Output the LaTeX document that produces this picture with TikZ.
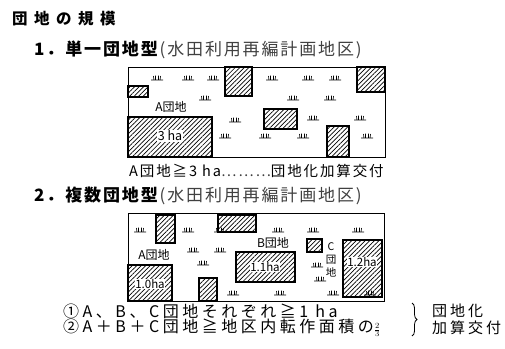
\documentclass[tikz,border=0pt]{standalone}
\usepackage{fontspec}
\setmainfont{Noto Sans CJK JP}
\usetikzlibrary{patterns.meta,decorations.pathreplacing}
\begin{document}
\begin{tikzpicture}[x=1pt, y=-1pt, font=\fontsize{13}{15}\selectfont,
 field/.style={draw, line width=0.9pt},
 plot/.style={draw, line width=1.4pt, pattern={Lines[angle=45,distance=3.2pt,line width=0.7pt]}},
 head/.style={anchor=west, inner sep=0pt, font=\fontsize{17}{19}\selectfont\addfontfeature{LetterSpace=11}},
 txt/.style={anchor=west, inner sep=0pt, font=\fontsize{14.5}{16}\selectfont\addfontfeature{LetterSpace=13}},
 cond/.style={anchor=west, inner sep=0pt, font=\fontsize{16}{18}\selectfont\addfontfeature{LetterSpace=22}},
 lbl/.style={inner sep=0.6pt, fill=white, font=\fontsize{12}{13}\selectfont},
 ha/.style={inner sep=0.6pt, fill=white, font=\fontsize{11.5}{12}\selectfont},
 rice/.pic={\draw[line width=0.6pt] (-6,0) -- (6,0)
   (-3,0) -- (-3.6,-4) (-1.5,0) -- (-1.5,-4.5) (1.5,0) -- (1.5,-4.5) (3,0) -- (3.6,-4);}]
\useasboundingbox (0,0) rectangle (505,348);
% headings
\node[head, font=\fontsize{15.5}{17}\selectfont\bfseries\addfontfeature{LetterSpace=42}] (title) at (12,19) {団地の規模};
\node[head] (h1) at (34,50) {\textbf{1．単一団地型}\textcolor{black!75}{(水田利用再編計画地区)}};
\node[head] (h2) at (34,196) {\textbf{2．複数団地型}\textcolor{black!75}{(水田利用再編計画地区)}};
% single plot area
\draw[field] (128,67) rectangle (385,157);
\draw[plot] (128,86) rectangle (148,97);
\draw[plot] (225,67) rectangle (252,96);
\draw[plot] (357,67) rectangle (385,92);
\draw[plot] (128,117) rectangle (212,157);
\draw[plot] (264,109) rectangle (297,129);
\draw[plot] (327,126) rectangle (349,157);
\foreach \x/\y in {157/80,188/80,213/80,272/80,308/80,335/80,205/100,293/100,330/100,
  235/122,313/120,360/120,225/138,265/138,303/138,367/138}
  \pic at (\x,\y) {rice};
\node[lbl] (a1) at (171,107) {A団地};
\node[ha, font=\fontsize{12.5}{13}\selectfont] (ha3) at (170,136) {3 ha};
\node[txt] (r1) at (129,171) {A団地≧3 ha\textcolor{black!75}{………}団地化加算交付};
% multiple plot area
\draw[field] (128,213) rectangle (384,301);
\draw[plot] (156,215) rectangle (175,243);
\draw[plot] (218,215) rectangle (256,232);
\draw[plot] (236,252) rectangle (295,282);
\draw[plot] (307,239) rectangle (322,252);
\draw[plot] (343,240) rectangle (382,297);
\draw[plot] (128,265) rectangle (172,301);
\draw[plot] (199,278) rectangle (217,301);
\foreach \x/\y in {140/232,188/232,220/232,278/232,313/232,358/232,193/252,220/252,
  203/265,317/267,320/281,233/295,280/295,333/295,370/295}
  \pic at (\x,\y) {rice};
\node[lbl] (a2) at (154,255) {A団地};
\node[lbl] (b2) at (273,243) {B団地};
\node[lbl, align=center, font=\fontsize{10.5}{13}\selectfont] (c2) at (331,260) {C\\団\\地};
\node[ha] (ha10) at (150,284) {1.0ha};
\node[ha] (ha11) at (265,267) {1.1ha};
\node[ha] (ha12) at (362,262) {1.2ha};
% conditions
\node[cond] (c1) at (63,311) {①A、B、C団地それぞれ≧1 ha};
\node[cond] (c3) at (63,328) {②A＋B＋C団地≧地区内転作面積の{\fontsize{11}{12}\selectfont$\frac{2}{3}$}};
\draw[decorate, decoration={brace, amplitude=5pt}, line width=0.8pt] (412,303) -- (412,336);
\node[cond, font=\fontsize{15}{16}\selectfont\addfontfeature{LetterSpace=20}] (k1) at (432,311) {団地化};
\node[cond, font=\fontsize{15}{16}\selectfont\addfontfeature{LetterSpace=20}] (k2) at (432,328) {加算交付};
\end{tikzpicture}
\end{document}
